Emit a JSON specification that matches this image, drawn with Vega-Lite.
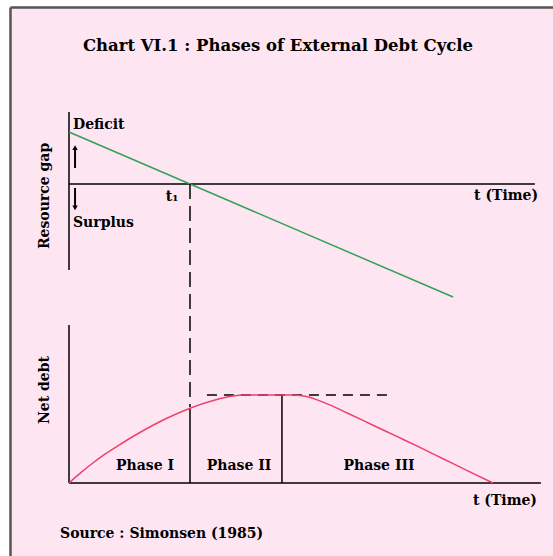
{
  "$schema": "https://vega.github.io/schema/vega-lite/v6.json",
  "width": 543,
  "height": 549,
  "autosize": {"type": "none"},
  "padding": {"left": 10, "top": 7, "right": 0, "bottom": 0},
  "background": "white",
  "config": {
    "view": {"fill": "#fde6f2", "stroke": null},
    "text": {"font": "DejaVu Serif", "fontWeight": "bold", "fontSize": 14, "color": "black", "baseline": "middle"}
  },
  "datasets": {
    "gapLine": [{"t": 0, "gap": 5}, {"t": 31.74, "gap": -10.87}],
    "gapAxes": [
      {"t": 0, "t2": 0, "gap": 6.92, "gap2": -8.27},
      {"t": 0, "t2": 38.5, "gap": 0, "gap2": 0}
    ],
    "arrowShafts": [
      {"t": 0.5, "t2": 0.5, "gap": 1.54, "gap2": 3.3},
      {"t": 0.5, "t2": 0.5, "gap": -0.38, "gap2": -2.1}
    ],
    "arrowHeads": [
      {"t": 0.5, "gap": 3.5, "dir": "up"},
      {"t": 0.5, "gap": -2.3, "dir": "down"}
    ],
    "t1Link": [{"t": 10, "t2": 10, "gap": 0, "gap2": -21.44}],
    "gapLabelsLeft": [
      {"t": 0.33, "gap": 5.67, "label": "Deficit"},
      {"t": 0.33, "gap": -3.75, "label": "Surplus"}
    ],
    "gapLabelsCenter": [
      {"t": 8.51, "gap": -1.25, "label": "t₁"},
      {"t": 36.12, "gap": -1.15, "label": "t (Time)"}
    ],
    "chartTitle": [{"t": 17.27, "gap": 13.27, "label": "Chart VI.1 : Phases of External Debt Cycle"}],
    "gapTitle": [{"t": -1.98, "gap": -1.15, "label": "Resource gap"}],
    "debtCurve": [
      {"t": 0, "debt": 0},
      {"t": 1, "debt": 1.2},
      {"t": 2, "debt": 2.3},
      {"t": 3, "debt": 3.3},
      {"t": 4, "debt": 4.2},
      {"t": 6, "debt": 5.85},
      {"t": 8, "debt": 7.3},
      {"t": 10, "debt": 8.5},
      {"t": 12, "debt": 9.4},
      {"t": 13.4, "debt": 9.85},
      {"t": 14.6, "debt": 10.0},
      {"t": 17.6, "debt": 10.0},
      {"t": 18.4, "debt": 10.0},
      {"t": 19.5, "debt": 9.85},
      {"t": 20.5, "debt": 9.45},
      {"t": 21.5, "debt": 8.9},
      {"t": 23, "debt": 7.95},
      {"t": 25, "debt": 6.65},
      {"t": 27, "debt": 5.35},
      {"t": 29, "debt": 4.05},
      {"t": 31, "debt": 2.7},
      {"t": 33, "debt": 1.35},
      {"t": 35.04, "debt": 0}
    ],
    "debtRules": [
      {"t": 0, "t2": 0, "debt": 0, "debt2": 17.95},
      {"t": 0, "t2": 39.0, "debt": 0, "debt2": 0},
      {"t": 10, "t2": 10, "debt": 0, "debt2": 8.5},
      {"t": 17.6, "t2": 17.6, "debt": 0, "debt2": 10}
    ],
    "debtDash": [{"t": 11.4, "t2": 26.7, "debt": 10, "debt2": 10}],
    "debtLabelsCenter": [
      {"t": 6.28, "debt": 1.93, "label": "Phase I"},
      {"t": 14.05, "debt": 1.93, "label": "Phase II"},
      {"t": 25.62, "debt": 1.93, "label": "Phase III"},
      {"t": 36.03, "debt": -2.05, "label": "t (Time)"}
    ],
    "debtLabelsLeft": [{"t": -0.74, "debt": -5.8, "label": "Source : Simonsen (1985)"}],
    "debtTitle": [{"t": -1.98, "debt": 10.57, "label": "Net debt"}]
  },
  "encoding": {
    "x": {
      "field": "t",
      "type": "quantitative",
      "scale": {"domain": [-4.876, 40.0], "nice": false, "zero": false},
      "axis": {"orient": "top", "labels": false, "ticks": false, "grid": false, "title": null, "domainColor": "#555555", "domainWidth": 2.5}
    }
  },
  "layer": [
    {
      "data": {"name": "gapAxes"},
      "mark": {"type": "rule", "color": "black", "strokeWidth": 1.5},
      "encoding": {
        "x2": {"field": "t2"},
        "y": {"field": "gap", "type": "quantitative", "scale": {"domain": [-35.77, 17.02], "nice": false, "zero": false},
              "axis": {"orient": "left", "labels": false, "ticks": false, "grid": false, "title": null, "domainColor": "#555555", "domainWidth": 2.5}},
        "y2": {"field": "gap2"}
      }
    },
    {
      "data": {"name": "gapLine"},
      "mark": {"type": "line", "color": "#33a05a", "strokeWidth": 1.5},
      "encoding": {
        "y": {"field": "gap", "type": "quantitative", "scale": {"domain": [-35.77, 17.02], "nice": false, "zero": false}, "axis": null}
      }
    },
    {
      "data": {"name": "arrowShafts"},
      "mark": {"type": "rule", "color": "black", "strokeWidth": 2},
      "encoding": {
        "x2": {"field": "t2"},
        "y": {"field": "gap", "type": "quantitative", "scale": {"domain": [-35.77, 17.02], "nice": false, "zero": false}, "axis": null},
        "y2": {"field": "gap2"}
      }
    },
    {
      "data": {"name": "arrowHeads"},
      "mark": {"type": "point", "filled": true, "color": "black", "size": 30, "opacity": 1},
      "encoding": {
        "y": {"field": "gap", "type": "quantitative", "scale": {"domain": [-35.77, 17.02], "nice": false, "zero": false}, "axis": null},
        "shape": {"field": "dir", "type": "nominal", "scale": {"domain": ["up", "down"], "range": ["triangle-up", "triangle-down"]}, "legend": null}
      }
    },
    {
      "data": {"name": "t1Link"},
      "mark": {"type": "rule", "color": "black", "strokeWidth": 1.5, "strokeDash": [15, 7]},
      "encoding": {
        "x2": {"field": "t2"},
        "y": {"field": "gap", "type": "quantitative", "scale": {"domain": [-35.77, 17.02], "nice": false, "zero": false}, "axis": null},
        "y2": {"field": "gap2"}
      }
    },
    {
      "data": {"name": "gapLabelsLeft"},
      "mark": {"type": "text", "align": "left"},
      "encoding": {
        "y": {"field": "gap", "type": "quantitative", "scale": {"domain": [-35.77, 17.02], "nice": false, "zero": false}, "axis": null},
        "text": {"field": "label"}
      }
    },
    {
      "data": {"name": "gapLabelsCenter"},
      "mark": {"type": "text", "align": "center"},
      "encoding": {
        "y": {"field": "gap", "type": "quantitative", "scale": {"domain": [-35.77, 17.02], "nice": false, "zero": false}, "axis": null},
        "text": {"field": "label"}
      }
    },
    {
      "data": {"name": "chartTitle"},
      "mark": {"type": "text", "align": "center", "fontSize": 16.5},
      "encoding": {
        "y": {"field": "gap", "type": "quantitative", "scale": {"domain": [-35.77, 17.02], "nice": false, "zero": false}, "axis": null},
        "text": {"field": "label"}
      }
    },
    {
      "data": {"name": "gapTitle"},
      "mark": {"type": "text", "align": "center", "angle": 270},
      "encoding": {
        "y": {"field": "gap", "type": "quantitative", "scale": {"domain": [-35.77, 17.02], "nice": false, "zero": false}, "axis": null},
        "text": {"field": "label"}
      }
    },
    {
      "data": {"name": "debtRules"},
      "mark": {"type": "rule", "color": "black", "strokeWidth": 1.5},
      "encoding": {
        "x2": {"field": "t2"},
        "y": {"field": "debt", "type": "quantitative", "scale": {"domain": [-8.295, 54.09], "nice": false, "zero": false}, "axis": null},
        "y2": {"field": "debt2"}
      }
    },
    {
      "data": {"name": "debtDash"},
      "mark": {"type": "rule", "color": "black", "strokeWidth": 1.5, "strokeDash": [10, 7]},
      "encoding": {
        "x2": {"field": "t2"},
        "y": {"field": "debt", "type": "quantitative", "scale": {"domain": [-8.295, 54.09], "nice": false, "zero": false}, "axis": null},
        "y2": {"field": "debt2"}
      }
    },
    {
      "data": {"name": "debtCurve"},
      "mark": {"type": "line", "color": "#f0406a", "strokeWidth": 1.5, "interpolate": "monotone"},
      "encoding": {
        "y": {"field": "debt", "type": "quantitative", "scale": {"domain": [-8.295, 54.09], "nice": false, "zero": false}, "axis": null}
      }
    },
    {
      "data": {"name": "debtLabelsCenter"},
      "mark": {"type": "text", "align": "center"},
      "encoding": {
        "y": {"field": "debt", "type": "quantitative", "scale": {"domain": [-8.295, 54.09], "nice": false, "zero": false}, "axis": null},
        "text": {"field": "label"}
      }
    },
    {
      "data": {"name": "debtLabelsLeft"},
      "mark": {"type": "text", "align": "left"},
      "encoding": {
        "y": {"field": "debt", "type": "quantitative", "scale": {"domain": [-8.295, 54.09], "nice": false, "zero": false}, "axis": null},
        "text": {"field": "label"}
      }
    },
    {
      "data": {"name": "debtTitle"},
      "mark": {"type": "text", "align": "center", "angle": 270},
      "encoding": {
        "y": {"field": "debt", "type": "quantitative", "scale": {"domain": [-8.295, 54.09], "nice": false, "zero": false}, "axis": null},
        "text": {"field": "label"}
      }
    }
  ],
  "resolve": {"scale": {"y": "independent"}}
}
